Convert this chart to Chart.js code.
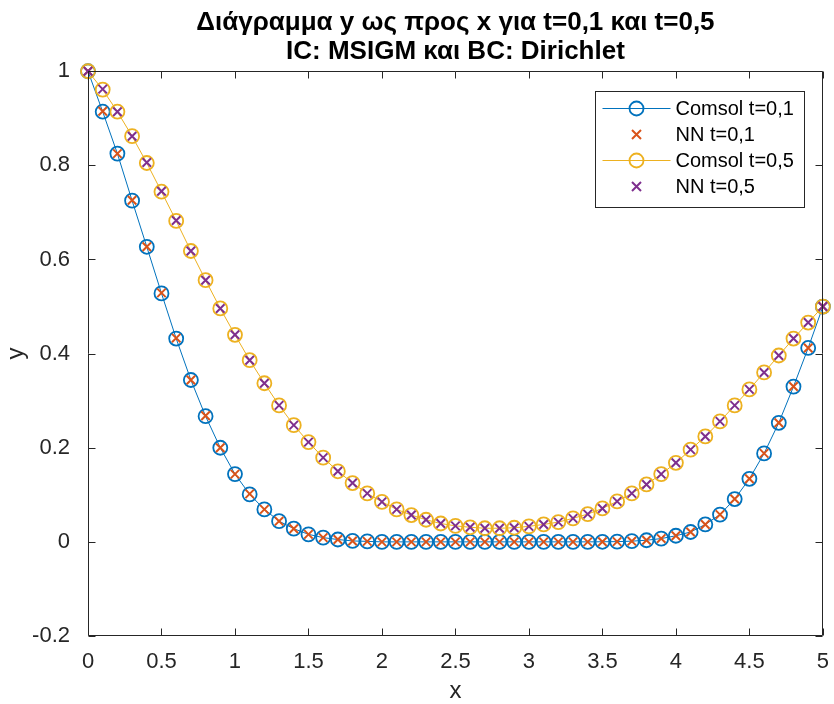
<!DOCTYPE html>
<html>
<head>
<meta charset="utf-8">
<script src="https://cdn.jsdelivr.net/npm/chart.js@4/dist/chart.umd.min.js"></script>
<style>
  html, body { margin: 0; padding: 0; background: #fff; }
  #wrap { width: 834px; height: 704px; }
</style>
</head>
<body>
<div id="wrap"><canvas id="plot" width="834" height="704"></canvas></div>
<script>
// x grid 0..5 step 0.1
var xs = [0, 0.1, 0.2, 0.3, 0.4, 0.5, 0.6, 0.7, 0.8, 0.9, 1, 1.1, 1.2, 1.3, 1.4, 1.5, 1.6, 1.7, 1.8, 1.9,
  2, 2.1, 2.2, 2.3, 2.4, 2.5, 2.6, 2.7, 2.8, 2.9, 3, 3.1, 3.2, 3.3, 3.4, 3.5, 3.6, 3.7, 3.8, 3.9,
  4, 4.1, 4.2, 4.3, 4.4, 4.5, 4.6, 4.7, 4.8, 4.9, 5];

var comsol01 = [1, 0.914, 0.825, 0.725, 0.627, 0.528, 0.432, 0.344, 0.267, 0.200, 0.144, 0.101, 0.069, 0.044, 0.028, 0.016, 0.009, 0.005, 0.002, 0.001,
  0, 0, 0, 0, 0, 0, 0, 0, 0, 0, 0, 0, 0, 0, 0, 0.0002, 0.0005, 0.0015, 0.0035, 0.007,
  0.013, 0.021, 0.037, 0.058, 0.091, 0.134, 0.188, 0.253, 0.330, 0.412, 0.5];
var nn01 = [1, 0.915, 0.825, 0.726, 0.627, 0.529, 0.433, 0.344, 0.268, 0.200, 0.144, 0.102, 0.069, 0.044, 0.028, 0.016, 0.009, 0.005, 0.002, 0.001,
  0, 0, 0, 0, 0, 0, 0, 0, 0, 0, 0, 0, 0, 0, 0, 0.0002, 0.0005, 0.0015, 0.0035, 0.007,
  0.013, 0.021, 0.037, 0.058, 0.091, 0.134, 0.188, 0.253, 0.330, 0.412, 0.5];

var comsol05 = [1, 0.961, 0.914, 0.862, 0.805, 0.744, 0.682, 0.618, 0.556, 0.496, 0.440, 0.386, 0.337, 0.290, 0.248, 0.212, 0.179, 0.150, 0.125, 0.103,
  0.085, 0.069, 0.057, 0.047, 0.039, 0.034, 0.031, 0.029, 0.029, 0.030, 0.033, 0.037, 0.042, 0.050, 0.059, 0.071, 0.086, 0.103, 0.122, 0.144,
  0.168, 0.196, 0.224, 0.256, 0.290, 0.324, 0.360, 0.396, 0.432, 0.466, 0.5];
var nn05 = [1, 0.962, 0.914, 0.862, 0.806, 0.745, 0.683, 0.618, 0.556, 0.496, 0.440, 0.386, 0.337, 0.290, 0.248, 0.212, 0.179, 0.150, 0.125, 0.103,
  0.085, 0.069, 0.057, 0.047, 0.039, 0.034, 0.031, 0.029, 0.029, 0.030, 0.033, 0.037, 0.042, 0.050, 0.059, 0.071, 0.086, 0.103, 0.122, 0.144,
  0.168, 0.196, 0.224, 0.256, 0.290, 0.324, 0.360, 0.396, 0.432, 0.466, 0.5];

var seriesNames = ['Comsol t=0,1', 'NN t=0,1', 'Comsol t=0,5', 'NN t=0,5'];
var titleLines = ['Διάγραμμα y ως προς x για t=0,1 και t=0,5', 'IC: MSIGM και BC: Dirichlet'];

var FONT = "'Liberation Sans', Arial, Helvetica, sans-serif";
var AXIS = '#262626';

function pts(ys) {
  return xs.map(function (x, i) { return { x: x, y: ys[i] }; });
}

function fmt(v) {
  var r = Math.round(v * 10) / 10;
  return (r === 0 ? 0 : r).toString();
}

// box around the axes, inward ticks on all four sides, and the legend
var boxPlugin = {
  id: 'boxPlugin',
  afterDraw: function (chart) {
    var ctx = chart.ctx, a = chart.chartArea;
    var sx = chart.scales.x, sy = chart.scales.y;
    var L = Math.round(a.left) + 0.5, R = Math.round(a.right) - 0.5;
    var T = Math.round(a.top) + 0.5, B = Math.round(a.bottom) - 0.5;
    ctx.save();
    ctx.strokeStyle = AXIS;
    ctx.lineWidth = 1;
    ctx.beginPath();
    ctx.rect(L, T, R - L, B - T);
    sx.ticks.forEach(function (t) {
      var px = Math.round(sx.getPixelForValue(t.value)) + 0.5;
      ctx.moveTo(px, B); ctx.lineTo(px, B - 7);
      ctx.moveTo(px, T); ctx.lineTo(px, T + 7);
    });
    sy.ticks.forEach(function (t) {
      var py = Math.round(sy.getPixelForValue(t.value)) + 0.5;
      ctx.moveTo(L, py); ctx.lineTo(L + 7, py);
      ctx.moveTo(R, py); ctx.lineTo(R - 7, py);
    });
    ctx.stroke();

    // legend
    var bw = 209, bh = 116;
    var bx = Math.round(a.right) - 19 - bw + 0.5, by = Math.round(a.top) + 20 + 0.5;
    ctx.fillStyle = '#fff';
    ctx.fillRect(bx, by, bw, bh);
    ctx.strokeStyle = '#262626';
    ctx.strokeRect(bx, by, bw, bh);
    ctx.font = '20px ' + FONT;
    ctx.textBaseline = 'middle';
    ctx.textAlign = 'left';
    chart.data.datasets.forEach(function (ds, i) {
      var cy = by + 17 + i * 26;
      var mx = bx + 41;
      if (ds.showLine) {
        ctx.strokeStyle = ds.borderColor;
        ctx.lineWidth = 1;
        ctx.beginPath();
        ctx.moveTo(bx + 7, cy); ctx.lineTo(bx + 75, cy);
        ctx.stroke();
      }
      ctx.strokeStyle = ds.pointBorderColor;
      ctx.lineWidth = ds.pointBorderWidth;
      ctx.beginPath();
      if (ds.pointStyle === 'circle') {
        ctx.fillStyle = '#fff';
        ctx.arc(mx, cy, ds.pointRadius, 0, Math.PI * 2);
      } else {
        var r = ds.pointRadius * 0.75;
        ctx.moveTo(mx - r, cy - r); ctx.lineTo(mx + r, cy + r);
        ctx.moveTo(mx - r, cy + r); ctx.lineTo(mx + r, cy - r);
      }
      ctx.stroke();
      ctx.fillStyle = '#000';
      ctx.fillText(ds.label, bx + 80, cy + 1);
    });
    ctx.restore();
  }
};

new Chart(document.getElementById('plot'), {
  type: 'scatter',
  data: {
    datasets: [
      {
        label: seriesNames[0], data: pts(comsol01), showLine: true, order: 4,
        borderColor: '#0072BD', borderWidth: 1,
        pointStyle: 'circle', pointRadius: 7, pointBorderWidth: 1.8,
        pointBorderColor: '#0072BD', pointBackgroundColor: 'rgba(0,0,0,0)'
      },
      {
        label: seriesNames[1], data: pts(nn01), showLine: false, order: 3,
        borderColor: '#D95319',
        pointStyle: 'crossRot', pointRadius: 6, pointBorderWidth: 2,
        pointBorderColor: '#D95319', pointBackgroundColor: '#D95319'
      },
      {
        label: seriesNames[2], data: pts(comsol05), showLine: true, order: 2,
        borderColor: '#EDB120', borderWidth: 1,
        pointStyle: 'circle', pointRadius: 7, pointBorderWidth: 1.8,
        pointBorderColor: '#EDB120', pointBackgroundColor: 'rgba(0,0,0,0)'
      },
      {
        label: seriesNames[3], data: pts(nn05), showLine: false, order: 1,
        borderColor: '#7E2F8E',
        pointStyle: 'crossRot', pointRadius: 6, pointBorderWidth: 2,
        pointBorderColor: '#7E2F8E', pointBackgroundColor: '#7E2F8E'
      }
    ]
  },
  options: {
    responsive: false,
    animation: false,
    events: [],
    clip: false,
    layout: { padding: { left: 0, right: 4, top: 0, bottom: 0 } },
    plugins: {
      legend: { display: false },
      tooltip: { enabled: false },
      title: {
        display: true,
        fullSize: false,
        text: titleLines,
        color: '#000',
        font: { family: FONT, size: 26, weight: 'bold', lineHeight: 1.12 },
        padding: { top: 8, bottom: 5 }
      }
    },
    scales: {
      x: {
        type: 'linear', min: 0, max: 5,
        grid: { display: false },
        border: { display: false },
        ticks: {
          stepSize: 0.5, color: AXIS, padding: 5,
          font: { family: FONT, size: 22 },
          maxRotation: 0, callback: fmt
        },
        title: { display: true, text: 'x', color: AXIS, font: { family: FONT, size: 24 }, padding: { top: 0, bottom: -2 } },
        afterFit: function (s) { s.height = 68; }
      },
      y: {
        type: 'linear', min: -0.2, max: 1,
        grid: { display: false },
        border: { display: false },
        ticks: {
          stepSize: 0.2, color: AXIS, padding: 10,
          font: { family: FONT, size: 22 },
          callback: fmt
        },
        title: { display: true, text: 'y', color: AXIS, font: { family: FONT, size: 24 }, padding: 2 },
        afterFit: function (s) { s.width = 88; }
      }
    }
  },
  plugins: [boxPlugin]
});
</script>
</body>
</html>
